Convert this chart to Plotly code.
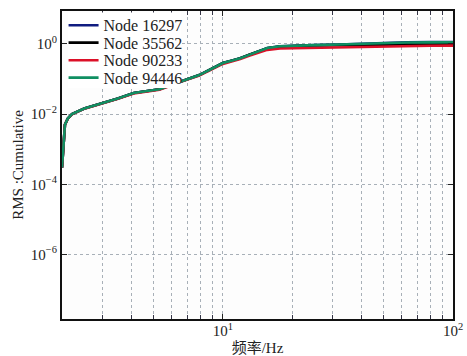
import plotly.graph_objects as go
import math

freq = [2.0, 2.01, 2.03, 2.06, 2.12, 2.21, 2.5, 3.0, 3.5, 4.1, 4.7, 5.3, 6.0, 6.5,
        7.9, 9.0, 10, 11, 11.9, 13, 14.1, 15.6, 17.7, 21.7, 25, 32, 40, 53, 63, 80, 100]

base = [3e-4, 5e-4, 2.0e-3, 5e-3, 7.5e-3, 0.010, 0.0145, 0.0205, 0.028, 0.040, 0.045,
        0.051, 0.069, 0.084, 0.13, 0.20, 0.286, 0.34, 0.39, 0.49]

node_16297 = base + [0.60, 0.77, 0.86, 0.92, 0.93, 0.97, 1.03, 1.09, 1.12, 1.13, 1.14]
node_35562 = base + [0.59, 0.75, 0.84, 0.90, 0.91, 0.93, 0.95, 0.96, 0.97, 0.98, 0.98]
node_90233 = [3e-4, 5e-4, 2.0e-3, 5e-3, 7.4e-3, 0.0099, 0.0143, 0.0202, 0.0275, 0.039, 0.044,
              0.050, 0.067, 0.082, 0.126, 0.193, 0.27, 0.32, 0.37, 0.46,
              0.55, 0.68, 0.74, 0.76, 0.78, 0.82, 0.85, 0.87, 0.88, 0.89, 0.90]
node_94446 = base + [0.60, 0.77, 0.86, 0.92, 0.93, 0.97, 1.02, 1.08, 1.10, 1.11, 1.12]

names = ["Node 16297", "Node 35562", "Node 90233", "Node 94446"]
series = [node_16297, node_35562, node_90233, node_94446]
colors = ["#101c80", "#000000", "#dc1028", "#0f8f62"]

y_tickvals = [1e-6, 1e-4, 1e-2, 1]
y_ticktext = ["10<sup>−6</sup>", "10<sup>−4</sup>", "10<sup>−2</sup>", "10<sup>0</sup>"]
x_tickvals = [10, 100]
x_ticktext = ["10<sup>1</sup>", "10<sup>2</sup>"]
x_minor = [3, 4, 5, 6, 7, 8, 9, 20, 30, 40, 50, 60, 70, 80, 90]

SERIF = "Liberation Serif, Noto Sans CJK SC, serif"
GRID = "#a8b0b8"

# plot area geometry (px)
W, H = 467, 356
ML, MR, MT, MB = 62, 14, 11, 37
PH = H - MT - MB
PW = W - ML - MR

legend_ids = ["legend", "legend2", "legend3", "legend4"]
legend_centers_px = [25.3, 42.7, 60.3, 77.7]

fig = go.Figure()
for n, s, c, lid in zip(names, series, colors, legend_ids):
    fig.add_trace(go.Scatter(x=freq, y=s, mode="lines", name=n, legend=lid,
                             line=dict(color=c, width=2.6)))

legend_layout = {}
for lid, cy in zip(legend_ids, legend_centers_px):
    legend_layout[lid] = dict(
        x=0.004, y=(MT + PH - cy) / PH, xanchor="left", yanchor="middle",
        bgcolor="rgba(0,0,0,0)", borderwidth=0,
        font=dict(family=SERIF, size=16, color="#222"),
    )

fig.update_layout(
    width=W, height=H,
    margin=dict(l=ML, r=MR, t=MT, b=MB, autoexpand=False),
    paper_bgcolor="white",
    plot_bgcolor="#fdfdfd",
    font=dict(family=SERIF, size=15, color="#222"),
    showlegend=True,
    **legend_layout,
    xaxis=dict(
        type="log", range=[math.log10(2), 2], automargin=False,
        tickmode="array", tickvals=x_tickvals, ticktext=x_ticktext,
        ticks="inside", ticklen=5, tickcolor="#222", ticklabelstandoff=-3,
        showline=True, linecolor="#111", linewidth=2, mirror="allticks",
        showgrid=True, gridcolor=GRID, griddash="dot", gridwidth=1,
        minor=dict(tickmode="array", tickvals=x_minor, ticks="inside", ticklen=4,
                   tickcolor="#334", showgrid=True, gridcolor=GRID, griddash="dot", gridwidth=1),
        zeroline=False,
        title=dict(text="频率/Hz", standoff=10, font=dict(family=SERIF, size=15)),
        tickfont=dict(family=SERIF, size=15),
    ),
    yaxis=dict(
        type="log", range=[-7.84, 0.94], automargin=False,
        tickmode="array", tickvals=y_tickvals, ticktext=y_ticktext,
        ticks="inside", ticklen=5, tickcolor="#222",
        showline=True, linecolor="#111", linewidth=2, mirror="allticks",
        showgrid=True, gridcolor=GRID, griddash="dot", gridwidth=1,
        zeroline=False,
        title=dict(text="RMS :Cumulative", standoff=4, font=dict(family=SERIF, size=15)),
        tickfont=dict(family=SERIF, size=15),
    ),
)
fig.add_shape(type="rect", xref="paper", yref="paper",
              x0=6 / PW, x1=(181 - ML) / PW,
              y0=(MT + PH - 88) / PH, y1=1 - 1.5 / PH,
              fillcolor="white", line=dict(width=0), layer="above")

fig.write_html("out.html")
